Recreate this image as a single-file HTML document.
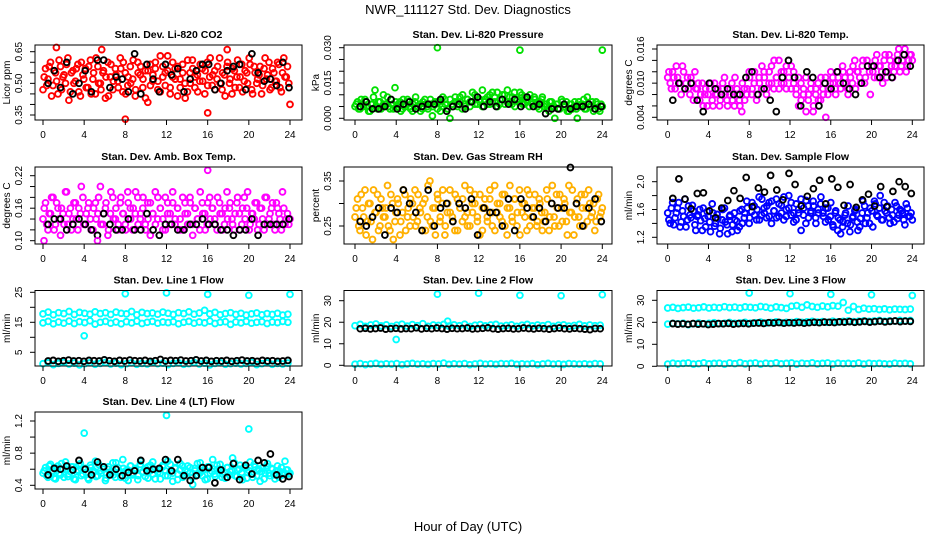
<!DOCTYPE html>
<html><head><meta charset="utf-8"><style>
html,body{margin:0;padding:0;background:#fff;}
svg{display:block;font-family:"Liberation Sans",sans-serif;}
</style></head><body>
<svg id="chart" width="936" height="540" viewBox="0 0 936 540" xmlns="http://www.w3.org/2000/svg">
<rect width="936" height="540" fill="#fff"/>
<text x="468" y="14" text-anchor="middle" font-size="13">NWR_111127  Std. Dev. Diagnostics</text>
<text x="468" y="531" text-anchor="middle" font-size="13">Hour of Day (UTC)</text>
<g id="panels"></g>
</svg>
<script>
// ---- data ----
const xTickLabels = ["0","4","8","12","16","20","24"];
const xTickHours = [0,4,8,12,16,20,24];

const co2Red = [0.47,0.57,0.52,0.60,0.49,0.55,0.45,0.58,0.53,0.50,0.62,0.46,0.56,0.51,0.59,0.44,0.54,0.57,0.48,0.61,0.52,0.45,0.58,0.50,0.55,0.43,0.60,0.53,0.47,0.57,0.51,0.62,0.46,0.55,0.49,0.58,0.52,0.44,0.60,0.54,0.48,0.56,0.41,0.59,0.51,0.57,0.47,0.63,0.53,0.49,0.56,0.45,0.60,0.52,0.58,0.48,0.55,0.43,0.61,0.50,0.57,0.53,0.46,0.59,0.51,0.56,0.49,0.62,0.54,0.47,0.58,0.50,0.55,0.44,0.60,0.52,0.57,0.48,0.61,0.53,0.46,0.56,0.50,0.59,0.45,0.55,0.52,0.58,0.49,0.62,0.54,0.47,0.57,0.51,0.60,0.48,0.55,0.53,0.58,0.40];
const co2Red2 = [0.53,0.49,0.58,0.44,0.56,0.51,0.61,0.47,0.54,0.59,0.42,0.55,0.50,0.57,0.46,0.60,0.52,0.48,0.58,0.45,0.55,0.62,0.50,0.47,0.56,0.53,0.44,0.59,0.51,0.54,0.48,0.57,0.60,0.45,0.53,0.50,0.61,0.47,0.55,0.58,0.52,0.43,0.56,0.49,0.54,0.60,0.51,0.46,0.58,0.55,0.63,0.48,0.53,0.57,0.44,0.52,0.59,0.50,0.46,0.55,0.61,0.48,0.54,0.51,0.57,0.45,0.60,0.53,0.49,0.56,0.52,0.62,0.47,0.54,0.58,0.50,0.45,0.56,0.53,0.48,0.59,0.51,0.55,0.62,0.47,0.58,0.50,0.54,0.45,0.57,0.52,0.60,0.48,0.55,0.51,0.59,0.46,0.62,0.53,0.50];
const co2Black = [0.50,0.56,0.48,0.60,0.45,0.50,0.56,0.46,0.61,0.61,0.48,0.53,0.52,0.46,0.64,0.45,0.59,0.52,0.46,0.59,0.54,0.57,0.46,0.52,0.56,0.59,0.59,0.47,0.50,0.56,0.58,0.59,0.47,0.64,0.55,0.51,0.52,0.49,0.60,0.48];
const co2OutHours = [1.3,5.7,8.0,16.0,17.9];
const co2OutVals = [0.67,0.66,0.33,0.36,0.66];
const co2Ticks = [0.35,0.40,0.45,0.50,0.55,0.60,0.65];
const co2Labels = ["0.35","0.50","0.65"];

const presGreen = [0.005,0.007,0.004,0.006,0.008,0.005,0.003,0.006,0.012,0.004,0.007,0.005,0.006,0.009,0.004,0.006,0.013,0.005,0.007,0.004,0.006,0.008,0.005,0.003,0.007,0.005,0.006,0.004,0.008,0.005,0.006,0.001,0.007,0.004,0.006,0.005,0.008,0.004,0.000,0.006,0.007,0.005,0.009,0.004,0.006,0.008,0.005,0.007,0.010,0.006,0.008,0.005,0.007,0.009,0.006,0.011,0.007,0.005,0.008,0.010,0.006,0.012,0.007,0.009,0.005,0.008,0.011,0.006,0.009,0.007,0.010,0.006,0.008,0.005,0.007,0.009,0.006,0.004,0.007,0.005,0.000,0.006,0.004,0.007,0.005,0.003,0.006,0.004,0.007,0.000,0.005,0.006,0.004,0.009,0.005,0.007,0.004,0.006,0.003,0.005];
const presGreen2 = [0.006,0.004,0.008,0.005,0.007,0.003,0.006,0.009,0.005,0.007,0.004,0.010,0.006,0.005,0.008,0.004,0.007,0.006,0.003,0.008,0.005,0.007,0.004,0.006,0.009,0.005,0.003,0.007,0.006,0.004,0.008,0.005,0.006,0.007,0.003,0.009,0.006,0.004,0.008,0.005,0.009,0.006,0.007,0.010,0.005,0.008,0.007,0.011,0.006,0.009,0.007,0.012,0.008,0.006,0.010,0.007,0.009,0.011,0.006,0.008,0.010,0.007,0.009,0.006,0.011,0.008,0.007,0.010,0.006,0.008,0.005,0.007,0.009,0.006,0.004,0.008,0.005,0.006,0.003,0.007,0.005,0.006,0.004,0.008,0.005,0.007,0.003,0.006,0.005,0.004,0.007,0.006,0.008,0.004,0.006,0.005,0.003,0.007,0.004,0.006];
const presBlack = [0.005,0.007,0.004,0.004,0.005,0.008,0.004,0.006,0.007,0.004,0.005,0.006,0.006,0.008,0.003,0.005,0.006,0.004,0.007,0.009,0.005,0.007,0.005,0.008,0.006,0.008,0.005,0.009,0.005,0.006,0.002,0.004,0.004,0.006,0.004,0.005,0.005,0.006,0.004,0.005];
const presOutHours = [8,16,24];
const presOutVals = [0.030,0.029,0.029];
const presTicks = [0,0.005,0.010,0.015,0.020,0.025,0.030];
const presLabels = ["0.000","0.015","0.030"];

const tempMag = [0.011,0.010,0.012,0.009,0.011,0.010,0.013,0.009,0.011,0.008,0.010,0.012,0.009,0.007,0.010,0.008,0.006,0.009,0.007,0.010,0.008,0.006,0.009,0.011,0.007,0.008,0.010,0.006,0.009,0.007,0.005,0.009,0.008,0.012,0.008,0.010,0.007,0.011,0.009,0.012,0.008,0.010,0.013,0.009,0.011,0.014,0.010,0.012,0.009,0.011,0.013,0.010,0.008,0.011,0.007,0.009,0.005,0.008,0.010,0.006,0.009,0.007,0.011,0.008,0.004,0.009,0.012,0.010,0.008,0.011,0.009,0.012,0.010,0.008,0.011,0.013,0.009,0.012,0.010,0.014,0.011,0.013,0.008,0.012,0.014,0.011,0.013,0.010,0.015,0.012,0.014,0.011,0.013,0.015,0.012,0.014,0.016,0.013,0.015,0.014];
const tempMag2 = [0.012,0.009,0.011,0.013,0.010,0.008,0.012,0.010,0.009,0.011,0.007,0.009,0.010,0.008,0.006,0.009,0.008,0.010,0.006,0.008,0.009,0.007,0.010,0.008,0.006,0.009,0.007,0.011,0.008,0.006,0.010,0.007,0.009,0.011,0.009,0.012,0.008,0.010,0.013,0.011,0.009,0.012,0.010,0.014,0.011,0.009,0.012,0.010,0.013,0.011,0.009,0.012,0.009,0.006,0.010,0.008,0.011,0.007,0.009,0.005,0.008,0.010,0.007,0.009,0.011,0.008,0.010,0.011,0.009,0.012,0.010,0.013,0.011,0.009,0.012,0.010,0.014,0.012,0.011,0.013,0.010,0.014,0.012,0.013,0.011,0.015,0.013,0.012,0.014,0.011,0.015,0.013,0.012,0.014,0.016,0.013,0.015,0.012,0.014,0.015];
const tempBlack = [0.007,0.010,0.009,0.010,0.007,0.005,0.010,0.009,0.008,0.009,0.008,0.008,0.011,0.012,0.008,0.009,0.007,0.005,0.011,0.014,0.011,0.006,0.012,0.011,0.006,0.010,0.009,0.012,0.010,0.009,0.008,0.010,0.013,0.013,0.011,0.012,0.011,0.014,0.015,0.013];
const tempTicks = [0.004,0.006,0.008,0.010,0.012,0.014,0.016];
const tempLabels = ["0.004","0.010","0.016"];

const ambMag = [0.14,0.17,0.12,0.15,0.18,0.13,0.16,0.11,0.15,0.19,0.13,0.16,0.14,0.17,0.12,0.15,0.18,0.13,0.16,0.14,0.12,0.17,0.15,0.20,0.13,0.16,0.11,0.15,0.18,0.14,0.12,0.17,0.15,0.13,0.19,0.16,0.12,0.15,0.18,0.14,0.16,0.13,0.17,0.11,0.15,0.19,0.14,0.16,0.12,0.18,0.15,0.13,0.17,0.14,0.16,0.12,0.18,0.15,0.13,0.17,0.11,0.16,0.14,0.19,0.15,0.12,0.17,0.14,0.16,0.13,0.18,0.15,0.12,0.16,0.14,0.17,0.13,0.15,0.18,0.12,0.16,0.14,0.19,0.13,0.15,0.17,0.12,0.16,0.14,0.18,0.13,0.15,0.17,0.12,0.16,0.14,0.19,0.13,0.15,0.14];
const ambMag2 = [0.16,0.13,0.15,0.18,0.12,0.17,0.14,0.16,0.13,0.19,0.15,0.12,0.17,0.14,0.16,0.20,0.13,0.15,0.17,0.12,0.16,0.14,0.18,0.13,0.15,0.17,0.12,0.19,0.14,0.16,0.13,0.18,0.15,0.12,0.17,0.14,0.16,0.19,0.13,0.15,0.18,0.12,0.14,0.17,0.15,0.13,0.18,0.16,0.14,0.12,0.17,0.15,0.19,0.13,0.16,0.14,0.12,0.17,0.15,0.18,0.13,0.16,0.14,0.12,0.17,0.15,0.13,0.18,0.16,0.14,0.12,0.17,0.15,0.13,0.19,0.16,0.14,0.12,0.17,0.15,0.13,0.18,0.16,0.12,0.15,0.14,0.17,0.13,0.16,0.12,0.18,0.14,0.16,0.13,0.17,0.15,0.12,0.16,0.14,0.13];
const ambBlack = [0.13,0.14,0.14,0.12,0.13,0.14,0.13,0.12,0.11,0.15,0.13,0.12,0.12,0.14,0.12,0.12,0.15,0.12,0.11,0.13,0.13,0.12,0.12,0.13,0.13,0.14,0.13,0.13,0.12,0.12,0.11,0.12,0.12,0.14,0.11,0.13,0.13,0.13,0.13,0.14];
const ambOutHours = [0.1,5.3,16.0];
const ambOutVals = [0.10,0.10,0.23];
const ambTicks = [0.10,0.12,0.14,0.16,0.18,0.20,0.22];
const ambLabels = ["0.10","0.16","0.22"];

const rhOrange = [0.27,0.31,0.24,0.29,0.33,0.26,0.30,0.22,0.28,0.32,0.25,0.29,0.27,0.34,0.24,0.30,0.26,0.31,0.23,0.28,0.32,0.27,0.25,0.30,0.33,0.26,0.29,0.24,0.31,0.27,0.35,0.25,0.29,0.32,0.26,0.30,0.23,0.28,0.33,0.27,0.24,0.31,0.29,0.26,0.34,0.28,0.25,0.30,0.32,0.27,0.23,0.29,0.31,0.26,0.33,0.28,0.24,0.30,0.27,0.32,0.25,0.29,0.34,0.26,0.31,0.28,0.23,0.30,0.27,0.33,0.25,0.29,0.32,0.26,0.30,0.24,0.28,0.31,0.27,0.34,0.25,0.29,0.32,0.26,0.30,0.23,0.28,0.33,0.27,0.31,0.25,0.29,0.32,0.26,0.30,0.28,0.24,0.31,0.27,0.29];
const rhOrange2 = [0.29,0.25,0.32,0.27,0.23,0.30,0.26,0.33,0.28,0.24,0.31,0.27,0.29,0.25,0.32,0.22,0.28,0.30,0.26,0.33,0.24,0.29,0.31,0.27,0.25,0.32,0.28,0.30,0.24,0.34,0.26,0.29,0.23,0.31,0.27,0.33,0.25,0.30,0.28,0.26,0.32,0.24,0.29,0.31,0.27,0.25,0.33,0.28,0.30,0.26,0.32,0.24,0.29,0.27,0.31,0.25,0.34,0.28,0.30,0.26,0.32,0.23,0.29,0.27,0.31,0.25,0.33,0.28,0.30,0.24,0.32,0.27,0.29,0.25,0.31,0.28,0.26,0.33,0.24,0.30,0.27,0.32,0.25,0.29,0.31,0.26,0.34,0.28,0.23,0.30,0.27,0.32,0.25,0.29,0.33,0.27,0.30,0.26,0.32,0.28];
const rhBlack = [0.26,0.25,0.27,0.29,0.23,0.29,0.28,0.33,0.30,0.28,0.24,0.33,0.25,0.29,0.30,0.26,0.30,0.29,0.31,0.23,0.29,0.28,0.28,0.25,0.31,0.24,0.31,0.29,0.27,0.29,0.26,0.30,0.29,0.29,0.38,0.30,0.25,0.29,0.31,0.26];
const rhTicks = [0.25,0.30,0.35];
const rhLabels = ["0.25","0.35"];

const flowBlue = [1.55,1.40,1.70,1.48,1.62,1.35,1.58,1.75,1.45,1.52,1.66,1.38,1.50,1.60,1.30,1.47,1.57,1.42,1.68,1.36,1.53,1.25,1.45,1.62,1.38,1.50,1.28,1.55,1.43,1.35,1.60,1.48,1.72,1.40,1.57,1.65,1.45,1.78,1.52,1.62,1.48,1.70,1.40,1.58,1.75,1.50,1.66,1.45,1.60,1.80,1.52,1.42,1.68,1.55,1.30,1.62,1.73,1.48,1.58,1.65,1.40,1.55,1.78,1.50,1.62,1.45,1.70,1.35,1.58,1.48,1.25,1.42,1.55,1.65,1.38,1.50,1.60,1.30,1.47,1.72,1.40,1.55,1.62,1.35,1.68,1.50,1.80,1.45,1.58,1.65,1.40,1.52,1.70,1.47,1.60,1.55,1.38,1.62,1.50,1.45];
const flowBlue2 = [1.45,1.62,1.38,1.55,1.70,1.42,1.50,1.35,1.65,1.48,1.58,1.30,1.52,1.44,1.62,1.35,1.50,1.28,1.55,1.40,1.47,1.33,1.60,1.42,1.25,1.52,1.38,1.45,1.30,1.58,1.40,1.55,1.62,1.48,1.70,1.52,1.60,1.45,1.75,1.55,1.65,1.50,1.72,1.58,1.48,1.68,1.55,1.78,1.50,1.62,1.70,1.55,1.45,1.60,1.75,1.52,1.40,1.65,1.55,1.72,1.48,1.60,1.68,1.55,1.42,1.62,1.50,1.38,1.55,1.30,1.45,1.35,1.52,1.40,1.28,1.48,1.58,1.42,1.35,1.55,1.65,1.48,1.40,1.58,1.72,1.52,1.62,1.45,1.70,1.55,1.48,1.60,1.42,1.65,1.52,1.58,1.45,1.68,1.50,1.55];
const flowBlack = [1.76,2.04,1.75,1.61,1.83,1.84,1.58,1.48,1.62,1.73,1.87,1.76,2.06,1.64,1.91,1.85,2.09,1.88,1.74,2.12,1.96,1.65,1.79,1.90,2.02,1.68,2.04,1.92,1.66,1.96,1.63,1.74,1.82,1.65,1.93,1.64,1.86,2.00,1.93,1.83];
const flowTicks = [1.2,1.4,1.6,1.8,2.0];
const flowLabels = ["1.2","1.6","2.0"];

const l1BandA = [17.8,18.4,17.5,18.2,17.9,18.6,17.6,18.3,18.0,17.7,18.5,17.9,18.2,17.6,18.4,18.0,17.8,18.6,17.5,18.3,17.9,18.1,17.7,18.4,18.0,17.6,18.2,17.9,18.5,17.7,18.1,19.0,17.8,18.3,17.5,17.9,18.2,17.6,18.0,17.4,17.8,18.1,17.5,17.9,17.6,18.0,17.4,17.7];
const l1BandB = [14.8,15.3,14.5,15.1,14.7,15.4,14.6,15.2,14.9,15.5,14.4,15.0,15.3,14.7,15.1,14.5,15.2,14.8,15.4,14.6,15.0,15.3,14.7,15.1,14.9,15.2,14.5,15.0,15.3,14.7,15.1,14.8,15.4,14.6,15.0,15.2,14.3,15.1,14.8,15.3,14.7,15.0,15.2,14.6,15.1,14.9,15.3,15.0];
const l1BandC = [1.2,1.5,0.9,1.3,1.6,1.1,1.4,0.8,1.2,1.5,1.0,1.3,1.6,1.1,1.4,0.9,1.2,1.5,1.0,1.3,1.1,1.6,1.2,1.4,0.9,1.3,1.5,1.0,1.2,1.6,1.1,1.4,0.8,1.3,1.5,1.0,1.2,1.4,1.1,1.3,1.6,0.9,1.2,1.5,1.0,1.3,1.1,1.4];
const l1Black = [2.1,2.3,2.0,2.2,2.4,2.1,2.2,2.0,2.3,2.2,2.1,2.5,2.2,2.0,2.3,2.1,2.4,2.2,2.1,2.3,2.0,2.2,2.6,2.1,2.3,2.2,2.4,2.1,2.2,2.5,2.1,2.3,2.0,2.2,2.1,2.3,2.0,2.2,2.4,2.1,2.2,2.0,2.3,2.1,2.2,2.0,2.1,2.3];
const l1OutHours = [4,8,12,16,20,24];
const l1OutVals = [10.5,24.5,24.8,24.3,24.0,24.3];
const l1Ticks = [5,10,15,20,25];
const l1Labels = ["5","15","25"];

const l2BandA = [18.4,19.0,18.1,18.7,19.2,18.3,18.8,18.0,18.6,19.1,18.2,18.9,18.4,19.3,18.1,18.7,18.5,19.0,18.2,18.8,18.4,19.1,18.0,18.6,18.9,18.3,18.7,19.0,18.2,18.5,18.8,18.1,18.6,19.0,18.3,18.7,18.4,18.9,18.1,18.6,18.8,18.2,18.5,19.0,18.3,18.7,18.4,18.6];
const l2BandB = [0.5,0.8,0.3,0.6,0.9,0.4,0.7,0.5,0.8,0.3,0.6,0.9,0.5,0.7,0.4,0.8,0.6,1.0,0.4,0.7,0.5,0.8,0.3,0.6,0.9,0.5,0.7,0.4,0.8,0.6,0.9,0.4,0.7,0.5,0.8,0.3,0.6,0.9,0.5,0.7,0.4,0.8,0.6,0.5,0.7,0.4,0.8,0.6];
const l2Black = [17.0,17.2,16.9,17.1,17.3,16.8,17.0,17.2,16.9,17.1,17.0,17.4,16.9,17.2,17.0,17.3,17.1,16.8,17.2,17.0,17.1,17.3,16.9,17.0,17.2,17.4,17.0,16.8,17.1,17.2,16.9,17.0,17.3,17.1,16.9,17.2,17.0,16.8,17.1,17.3,17.0,16.9,17.2,17.0,16.8,16.6,17.1,17.0];
const l2OutHours = [4,8,9,12,16,20,24];
const l2OutVals = [12,33,20.5,33.5,32.5,32.3,32.8];
const l23Ticks = [0,10,20,30];
const l23Labels = ["0","10","20","30"];

const l3BandA = [26.5,26.8,26.3,26.7,26.9,26.4,26.6,27.0,26.5,26.8,26.6,27.1,26.7,26.9,26.5,27.0,26.8,26.6,27.2,26.9,26.4,27.0,26.7,26.3,27.3,27.6,26.8,27.9,27.2,26.8,27.4,27.0,27.6,27.3,29.0,25.5,27.2,25.8,26.4,26.0,26.2,25.8,26.1,25.7,26.0,25.9,25.8,26.0];
const l3BandB = [19.2,19.5,19.3,19.6,18.9,19.4,19.7,19.3,19.5,19.8,19.4,19.6,19.9,19.5,19.7,20.0,19.6,19.8,20.1,19.7,19.9,20.2,19.8,20.0,19.9,20.3,20.0,20.2,20.4,20.1,20.3,20.0,20.5,20.2,20.4,20.6,20.3,20.5,20.7,20.4,20.6,20.8,20.5,20.7,20.6,20.9,20.7,20.8];
const l3BandC = [1.0,1.4,1.1,1.3,1.5,1.0,1.2,1.6,1.1,1.3,1.4,1.0,1.5,1.2,1.7,1.1,1.3,1.5,1.0,1.4,1.2,1.6,1.1,1.3,1.5,1.0,1.4,1.2,1.6,1.1,1.3,1.5,1.0,1.4,1.2,1.3,1.1,1.5,1.0,1.4,1.2,1.3,1.1,1.0,1.4,1.2,1.3,1.1];
const l3Black = [19.4,19.2,19.3,19.1,19.4,19.2,19.3,19.0,19.2,19.4,19.3,19.5,19.2,19.4,19.5,19.3,19.6,19.7,19.5,19.8,19.7,19.9,19.6,19.8,19.7,19.9,19.6,19.8,20.0,19.8,20.1,20.0,19.9,20.2,20.1,20.3,20.0,20.2,20.4,20.1,20.3,20.5,20.2,20.4,20.6,20.3,20.5,20.4];
const l3OutHours = [8,12,16,20,24];
const l3OutVals = [33.3,33.0,32.7,32.5,32.2];

const l4Cyan = [0.55,0.62,0.50,0.66,0.58,0.48,0.64,0.53,0.60,0.69,0.51,0.57,0.63,0.47,0.59,0.67,0.54,0.61,0.49,0.65,0.56,0.70,0.52,0.58,0.63,0.46,0.60,0.55,0.68,0.50,0.62,0.57,0.72,0.49,0.59,0.64,0.53,0.61,0.47,0.66,0.56,0.51,0.63,0.58,0.69,0.48,0.60,0.55,0.65,0.52,0.70,0.57,0.45,0.62,0.54,0.67,0.50,0.59,0.64,0.56,0.41,0.61,0.53,0.68,0.58,0.47,0.63,0.55,0.72,0.51,0.60,0.66,0.54,0.49,0.62,0.57,0.74,0.52,0.59,0.65,0.47,0.61,0.56,0.69,0.50,0.63,0.58,0.45,0.62,0.55,0.67,0.52,0.60,0.48,0.64,0.57,0.53,0.70,0.59,0.55];
const l4Cyan2 = [0.58,0.52,0.64,0.56,0.49,0.61,0.55,0.67,0.50,0.59,0.54,0.63,0.48,0.57,0.65,0.52,0.60,0.56,0.47,0.62,0.58,0.51,0.66,0.55,0.60,0.49,0.63,0.57,0.53,0.68,0.56,0.50,0.61,0.58,0.46,0.64,0.55,0.59,0.52,0.70,0.57,0.61,0.49,0.65,0.54,0.60,0.56,0.48,0.63,0.58,0.52,0.66,0.55,0.61,0.47,0.59,0.64,0.53,0.57,0.62,0.50,0.58,0.67,0.55,0.52,0.60,0.48,0.63,0.57,0.54,0.65,0.59,0.50,0.56,0.62,0.53,0.58,0.68,0.51,0.60,0.56,0.63,0.49,0.58,0.54,0.66,0.52,0.60,0.57,0.48,0.64,0.55,0.61,0.53,0.58,0.50,0.62,0.56,0.59,0.54];
const l4Black = [0.53,0.61,0.60,0.64,0.59,0.71,0.60,0.53,0.69,0.63,0.53,0.60,0.52,0.56,0.58,0.71,0.58,0.60,0.61,0.72,0.58,0.72,0.52,0.46,0.52,0.62,0.62,0.43,0.59,0.50,0.67,0.47,0.65,0.54,0.71,0.68,0.79,0.53,0.48,0.51];
const l4OutHours = [4,12,20];
const l4OutVals = [1.05,1.27,1.10];
const l4Ticks = [0.4,0.6,0.8,1.0,1.2];
const l4Labels = ["0.4","0.8","1.2"];

// ---- layout (pixel geometry, not data) ----
const colBox = [[35,302,43,290],[344,612,355,602.3],[657,924,667.7,912.3]];
const rowBox = [[45,120],[167,244],[290.5,366],[412,489]];

const panels = [
 {name:"co2",title:"Stan. Dev. Li-820 CO2",ylab:"Licor ppm",c:0,r:0,cal:[0.65,51.7,0.35,115],ticks:co2Ticks,labels:co2Labels,
  series:[[co2Red,"#ff0000",0,24],[co2Red2,"#ff0000",0.12,23.88],[co2Black,"#000",0.5,23.9]],out:[co2OutHours,co2OutVals,"#ff0000"]},
 {name:"pressure",title:"Stan. Dev. Li-820 Pressure",ylab:"kPa",c:1,r:0,cal:[0.030,47.7,0,118.3],ticks:presTicks,labels:presLabels,
  series:[[presGreen,"#00e000",0,24],[presGreen2,"#00e000",0.12,23.88],[presBlack,"#000",0.5,23.9]],out:[presOutHours,presOutVals,"#00e000"]},
 {name:"li820-temp",title:"Stan. Dev. Li-820 Temp.",ylab:"degrees C",c:2,r:0,cal:[0.016,49,0.004,117.3],ticks:tempTicks,labels:tempLabels,
  series:[[tempMag,"#ff00ff",0,24],[tempMag2,"#ff00ff",0.12,23.88],[tempBlack,"#000",0.5,23.8]]},
 {name:"amb-box-temp",title:"Stan. Dev. Amb. Box Temp.",ylab:"degrees C",c:0,r:1,cal:[0.22,175.7,0.10,240.7],ticks:ambTicks,labels:ambLabels,
  series:[[ambMag,"#ff00ff",0,24],[ambMag2,"#ff00ff",0.12,23.88],[ambBlack,"#000",0.5,23.9]],out:[ambOutHours,ambOutVals,"#ff00ff"]},
 {name:"gas-stream-rh",title:"Stan. Dev. Gas Stream RH",ylab:"percent",c:1,r:1,cal:[0.35,181,0.25,226],ticks:rhTicks,labels:rhLabels,
  series:[[rhOrange,"#ffb000",0,24],[rhOrange2,"#ffb000",0.12,23.88],[rhBlack,"#000",0.5,23.9]]},
 {name:"sample-flow",title:"Stan. Dev. Sample Flow",ylab:"ml/min",c:2,r:1,cal:[2.0,181.7,1.2,237.3],ticks:flowTicks,labels:flowLabels,
  series:[[flowBlue,"#0000ff",0,24],[flowBlue2,"#0000ff",0.12,23.88],[flowBlack,"#000",0.5,23.9]]},
 {name:"line1-flow",title:"Stan. Dev. Line 1 Flow",ylab:"ml/min",c:0,r:2,cal:[25,292.3,5,352.3],ticks:l1Ticks,labels:l1Labels,
  series:[[l1BandA,"#00ffff",0,23.8],[l1BandB,"#00ffff",0,23.8],[l1BandC,"#00ffff",0,23.8],[l1Black,"#000",0.5,23.8]],out:[l1OutHours,l1OutVals,"#00ffff"]},
 {name:"line2-flow",title:"Stan. Dev. Line 2 Flow",ylab:"ml/min",c:1,r:2,cal:[30,300.7,0,365.3],ticks:l23Ticks,labels:l23Labels,
  series:[[l2BandA,"#00ffff",0,23.8],[l2BandB,"#00ffff",0,23.8],[l2Black,"#000",0.5,23.8]],out:[l2OutHours,l2OutVals,"#00ffff"]},
 {name:"line3-flow",title:"Stan. Dev. Line 3 Flow",ylab:"ml/min",c:2,r:2,cal:[30,300.3,0,366.3],ticks:l23Ticks,labels:l23Labels,
  series:[[l3BandA,"#00ffff",0,23.8],[l3BandB,"#00ffff",0,23.8],[l3BandC,"#00ffff",0,23.8],[l3Black,"#000",0.5,23.8]],out:[l3OutHours,l3OutVals,"#00ffff"]},
 {name:"line4-flow",title:"Stan. Dev. Line 4 (LT) Flow",ylab:"ml/min",c:0,r:3,cal:[1.2,421,0.4,485.3],ticks:l4Ticks,labels:l4Labels,
  series:[[l4Cyan,"#00ffff",0,24],[l4Cyan2,"#00ffff",0.12,23.88],[l4Black,"#000",0.5,23.9]],out:[l4OutHours,l4OutVals,"#00ffff"]}
];

const NS = "http://www.w3.org/2000/svg";
const root = document.getElementById("panels");
function mk(tag, attrs, parent){
  const e = document.createElementNS(NS, tag);
  for (const k in attrs) e.setAttribute(k, attrs[k]);
  parent.appendChild(e); return e;
}
panels.forEach(p => {
  const [bl,br,x0,x24] = colBox[p.c];
  const [bt,bb] = rowBox[p.r];
  const xs = h => x0 + h*(x24-x0)/24;
  const [v1,p1,v2,p2] = p.cal;
  const ys = v => p1 + (v-v1)*(p2-p1)/(v2-v1);
  const g = mk("g", {}, root);
  
  
  const t = mk("text", {x:(bl+br)/2, y:bt-7, "text-anchor":"middle", "font-size":"10.5", "font-weight":"bold"}, g);
  
  
  t.textContent = p.title;
  const pts = mk("g", {fill:"none","stroke-width":"1.9"}, g);
  
  
  p.series.forEach(s => {
    const [vals,col,h0,h1] = s;
    vals.forEach((v,i) => {
      const h = h0 + i*(h1-h0)/(vals.length-1);
      const c = mk("circle", {cx:xs(h).toFixed(1), cy:ys(v).toFixed(1), r:2.9, stroke:col}, pts);
      
      
    });
  });
  if (p.out){
    const [hs,vs,col] = p.out;
    hs.forEach((h,i) => {
      const c = mk("circle", {cx:xs(h).toFixed(1), cy:ys(vs[i]).toFixed(1), r:2.9, stroke:col}, pts);
      
      
    });
  }
  const box = mk("rect", {x:bl, y:bt, width:br-bl, height:bb-bt, fill:"none", stroke:"#000", "stroke-width":"1"}, g);
  
  
  const xa = mk("g", {}, g);
  
  
  mk("line", {x1:xs(xTickHours[0]), x2:xs(xTickHours[xTickHours.length-1]), y1:bb, y2:bb, stroke:"#000"}, xa);
  xTickHours.forEach((h,i) => {
    mk("line", {x1:xs(h), x2:xs(h), y1:bb, y2:bb+5, stroke:"#000"}, xa);
    const l = mk("text", {x:xs(h), y:bb+18, "text-anchor":"middle", "font-size":"10"}, xa);
    
    
    l.textContent = xTickLabels[i];
  });
  const ya = mk("g", {}, g);
  
  
  const tk = p.ticks;
  mk("line", {x1:bl, x2:bl, y1:ys(tk[0]), y2:ys(tk[tk.length-1]), stroke:"#000"}, ya);
  tk.forEach(v => mk("line", {x1:bl-5, x2:bl, y1:ys(v), y2:ys(v), stroke:"#000"}, ya));
  p.labels.forEach(s => {
    const yy = ys(parseFloat(s));
    const l = mk("text", {x:0, y:0, transform:`translate(${bl-13},${yy}) rotate(-90)`, "text-anchor":"middle", "font-size":"10"}, ya);
    
    
    l.textContent = s;
  });
  const yt = mk("text", {x:0, y:0, transform:`translate(${bl-25},${(bt+bb)/2}) rotate(-90)`, "text-anchor":"middle", "font-size":"10"}, ya);
  
  
  yt.textContent = p.ylab;
});
</script>
</body></html>
